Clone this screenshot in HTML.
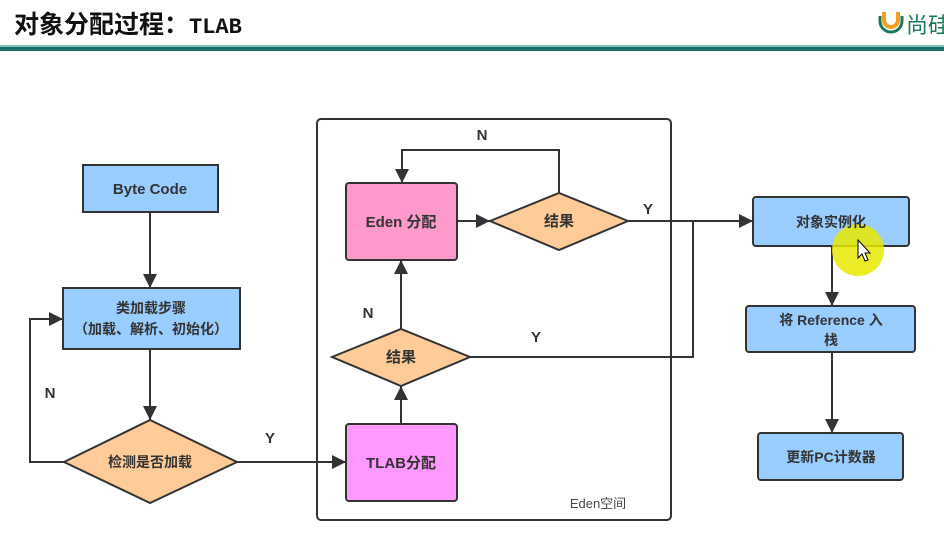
<!DOCTYPE html>
<html><head><meta charset="utf-8"><style>
body{margin:0;width:944px;height:543px;background:#fff;overflow:hidden;position:relative;font-family:"Liberation Sans","Noto Sans CJK SC",sans-serif}
svg{position:absolute;left:0;top:0}
</style></head><body>
<svg width="944" height="543" viewBox="0 0 944 543" xmlns="http://www.w3.org/2000/svg">
<defs>
<marker id="a" viewBox="0 0 10 10" refX="10" refY="5" markerWidth="9" markerHeight="9" markerUnits="userSpaceOnUse" orient="auto"><path d="M0,0L10,5L0,10z" fill="#333"/></marker>
<marker id="b" viewBox="0 0 10 10" refX="10" refY="5" markerWidth="22" markerHeight="14" markerUnits="userSpaceOnUse" orient="auto"><path d="M0,0L10,5L0,10z" fill="#333"/></marker>
</defs>
<text x="14" y="33" font-size="25" font-weight="bold" font-family="'Noto Sans CJK SC',sans-serif" fill="#111">对象分配过程：<tspan font-family="'Liberation Mono',monospace" font-size="22">TLAB</tspan></text>
<rect x="0" y="45" width="944" height="2" fill="#7fc4bb"/>
<rect x="0" y="47" width="944" height="4" fill="#1b6f66"/>
<path d="M884,12 v8 a7,7 0 0 0 14,0 v-8" fill="none" stroke="#f0a020" stroke-width="4"/>
<path d="M880,16 v5 a11,11 0 0 0 22,0 v-5" fill="none" stroke="#1b7a5e" stroke-width="3"/>
<text x="906" y="33" font-size="22" fill="#1b7a5e" font-family="'Noto Sans CJK SC',sans-serif">尚硅</text>

<g stroke="#333" stroke-width="2" fill="none">
<rect x="317" y="119" width="354" height="401" rx="4"/>
</g>
<g stroke="#333" stroke-width="2">
<rect x="83" y="165" width="135" height="47" fill="#99ccff"/>
<rect x="63" y="288" width="177" height="61" fill="#99ccff"/>
<path d="M64,462 L150,420 L237,462 L150,503 Z" fill="#ffcc99"/>
<rect x="346" y="183" width="111" height="77" rx="3" fill="#ff99cc"/>
<rect x="346" y="424" width="111" height="77" rx="3" fill="#ff99ff"/>
<path d="M490,221 L559,193 L628,221 L559,250 Z" fill="#ffcc99"/>
<path d="M332,357 L401,329 L470,357 L401,386 Z" fill="#ffcc99"/>
<rect x="753" y="197" width="156" height="49" rx="3" fill="#99ccff"/>
<rect x="746" y="306" width="169" height="46" rx="3" fill="#99ccff"/>
<rect x="758" y="433" width="145" height="47" rx="3" fill="#99ccff"/>
</g>
<g stroke="#333" stroke-width="2" fill="none">
<path d="M150,212 V288" marker-end="url(#b)"/>
<path d="M150,349 V420" marker-end="url(#b)"/>
<path d="M64,462 H30 V319 H63" marker-end="url(#b)"/>
<path d="M237,462 H346" marker-end="url(#b)"/>
<path d="M401,424 V386" marker-end="url(#b)"/>
<path d="M401,329 V260" marker-end="url(#b)"/>
<path d="M457,221 H490" marker-end="url(#b)"/>
<path d="M559,193 V150 H402 V183" marker-end="url(#b)"/>
<path d="M628,221 H753" marker-end="url(#b)"/>
<path d="M470,357 H693 V221"/>
<path d="M832,246 V306" marker-end="url(#b)"/>
<path d="M832,352 V433" marker-end="url(#b)"/>
</g>
<circle cx="858" cy="250" r="26" fill="#e8e800" opacity="0.85"/>
<g font-size="15" font-weight="bold" fill="#333" text-anchor="middle">
<text x="150" y="194">Byte Code</text>
<text x="151" y="313" font-size="14">类加载步骤</text>
<text x="151" y="334" font-size="14">（加载、解析、初始化）</text>
<text x="150" y="467" font-size="14">检测是否加载</text>
<text x="401" y="227">Eden 分配</text>
<text x="401" y="468">TLAB分配</text>
<text x="559" y="226">结果</text>
<text x="401" y="362">结果</text>
<text x="831" y="227" font-size="14">对象实例化</text>
<text x="831" y="325" font-size="14">将 Reference 入</text>
<text x="831" y="345" font-size="14">栈</text>
<text x="831" y="462" font-size="14">更新PC计数器</text>
<text x="50" y="398">N</text>
<text x="270" y="443">Y</text>
<text x="482" y="140">N</text>
<text x="368" y="318">N</text>
<text x="648" y="214">Y</text>
<text x="536" y="342">Y</text>
</g>
<text x="598" y="508" font-size="13" fill="#444" text-anchor="middle">Eden空间</text>
<path d="M858,240 l0,18 4,-4 3,7 3,-1 -3,-7 5,0 z" fill="#fff" stroke="#000" stroke-width="1"/>
</svg>
</body></html>
